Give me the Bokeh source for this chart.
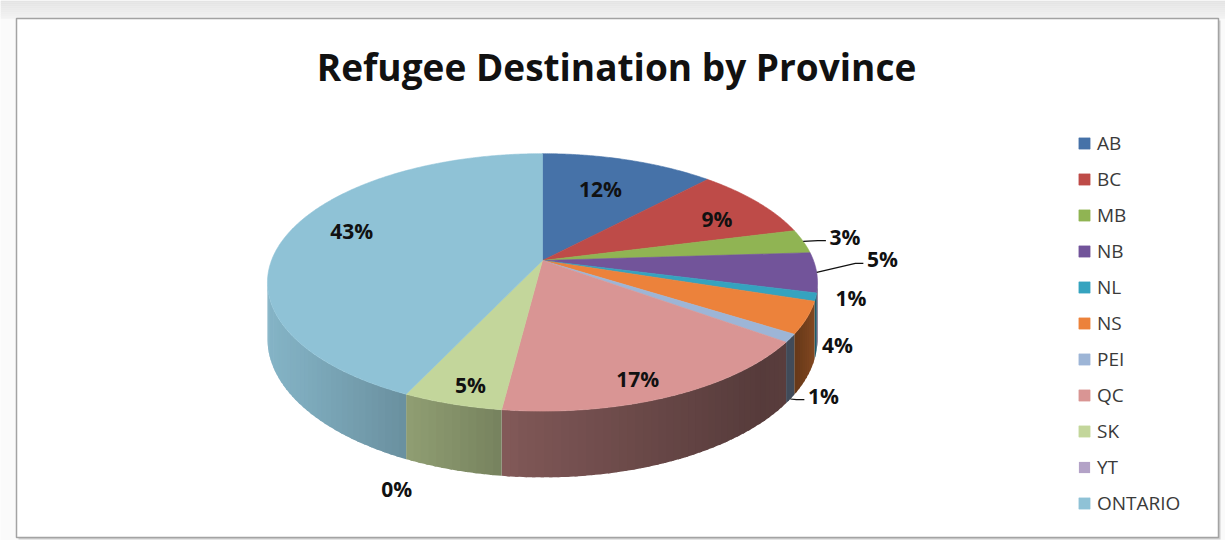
import numpy as np
from bokeh.plotting import figure
from bokeh.models import ColumnDataSource, Range1d, Legend, LegendItem
from bokeh.core.properties import value
from bokeh.embed import file_html
from bokeh.resources import INLINE

# ---------------- data ----------------
title_text = "Refugee Destination by Province"
provinces = ["AB", "BC", "MB", "NB", "NL", "NS", "PEI", "QC", "SK", "YT", "ONTARIO"]
shares = [12, 9, 3, 5, 1, 4, 1, 17, 5, 0, 43]
top_colors = ["#4672a8", "#be4b48", "#90b453", "#72549a", "#35a3bf", "#ec823b",
              "#9db5d6", "#d99594", "#c3d69b", "#b3a2c7", "#8fc2d6"]

# ---------------- layout (not data) ----------------
W, HPX = 1225, 540
CX, CY, RX, RY, K, DEPTH = 542.0, 260.0, 271.0, 125.0, 0.17, 55.0
label_r = [0.68, 0.77, 1.17, 1.256, 1.12, 1.148, 1.265, 0.868, 0.879, 1.454, 0.773]
label_dphi = [-1.2, 3.1, -0.7, -5.8, -1.6, 6.5, 12.0, 3.0, -1.2, -8.8, 5.9]
leader = [False, False, True, True, False, False, True, False, False, False, False]
leader_drop = [0, 0, 0, 0, 0, 0, 1.0, 0, 0, 0, 0]
FONT = "Open Sans"


def proj(r, phi_deg):
    ph = np.radians(np.asarray(phi_deg, dtype=float))
    X = r * np.sin(ph)
    S = r * np.cos(ph)
    den = 1 + K * S
    return CX + RX * X / den, CY - RY * S / den, den


def shade(hexcol, f):
    h = hexcol.lstrip("#")
    r, g, b = (int(h[i:i + 2], 16) for i in (0, 2, 4))
    return "#%02x%02x%02x" % (int(min(255, r * f)), int(min(255, g * f)), int(min(255, b * f)))


total = float(sum(shares))
cum = np.concatenate([[0.0], np.cumsum(shares)])
a_start = cum[:-1] / total * 360.0
a_end = cum[1:] / total * 360.0
a_mid = (a_start + a_end) / 2.0

p = figure(width=W, height=HPX, x_range=Range1d(0, W), y_range=Range1d(HPX, 0),
           min_border=0, toolbar_location=None, output_backend="svg",
           x_axis_location=None, y_axis_location=None,
           background_fill_color="#fafafa", border_fill_color="#fafafa")
p.grid.visible = False
p.outline_line_color = None

# top grey band
band_n = 9
for i in range(band_n):
    g = int(0xe4 + (0xf2 - 0xe4) * i / (band_n - 1))
    p.quad(left=0, right=W, top=i * 2, bottom=i * 2 + 2.2, fill_color="#%02x%02x%02x" % (g, g, g),
           line_color=None)

# frame box with shadow
p.quad(left=18, right=1220, top=20, bottom=539, fill_color="#d0d0d0", line_color=None)
p.quad(left=16, right=1218, top=18, bottom=537, fill_color="#ffffff",
       line_color="#a3a3a3", line_width=1.5)

# ---------------- side walls ----------------
lo = np.degrees(np.arccos(-K))
hi = 360.0 - lo
wx, wy, wc = [], [], []
for i in range(len(shares)):
    s0, s1 = max(a_start[i], lo), min(a_end[i], hi)
    if s1 <= s0:
        continue
    n = max(1, int(np.ceil((s1 - s0) / 1.5)))
    edges = np.linspace(s0, s1, n + 1)
    for j in range(n):
        e1 = min(edges[j + 1] + 0.6, s1)
        ph = np.linspace(edges[j], e1, 4)
        tx, ty, den = proj(1.0, ph)
        bx, by = tx, ty + DEPTH / den
        xs = list(tx) + list(bx[::-1])
        ys = list(ty) + list(by[::-1])
        mx = float(np.mean(tx))
        f = float(np.interp(mx, [265, 300, 520, 760, 792, 818],
                            [0.93, 0.89, 0.58, 0.40, 0.42, 0.58]))
        wx.append(xs)
        wy.append(ys)
        wc.append(shade(top_colors[i], f))
p.patches(xs="xs", ys="ys", fill_color="c", line_color=None,
          source=ColumnDataSource(dict(xs=wx, ys=wy, c=wc)))

# ---------------- top surface ----------------
txs, tys, tlw = [], [], []
for i in range(len(shares)):
    span = a_end[i] - a_start[i]
    ph = np.linspace(a_start[i], a_end[i], max(2, int(span * 2) + 2))
    x, y, _ = proj(1.0, ph)
    txs.append([CX] + list(x) + [CX])
    tys.append([CY] + list(y) + [CY])
    tlw.append(0.6 if span > 0 else 0.0)
top_src = ColumnDataSource(dict(xs=txs, ys=tys, c=top_colors, lw=tlw, name=provinces))
tops = p.patches(xs="xs", ys="ys", fill_color="c", line_color="c", line_width="lw",
                 source=top_src)

# ---------------- data labels ----------------
lx, ly, lt = [], [], []
for i in range(len(shares)):
    x, y, _ = proj(label_r[i], a_mid[i] + label_dphi[i])
    lx.append(float(x))
    ly.append(float(y))
    lt.append("%d%%" % int(round(shares[i] / total * 100)))
p.text(x="x", y="y", text="t", source=ColumnDataSource(dict(x=lx, y=ly, t=lt)),
       text_font=value(FONT), text_font_style="bold", text_font_size="21px",
       text_color="#111111", text_align="center", text_baseline="middle")

# leader lines
lead_x, lead_y = [], []
for i in range(len(shares)):
    if not leader[i]:
        continue
    sx, sy, den = proj(1.0, a_mid[i])
    sx, sy = float(sx), float(sy + leader_drop[i] * DEPTH / den)
    ex, ey = lx[i] - 19, ly[i] + 4
    lead_x.append([sx, ex - 8, ex])
    lead_y.append([sy, ey, ey])
p.multi_line(xs=lead_x, ys=lead_y, line_color="#111111", line_width=1.2)

# ---------------- title ----------------
p.text(x=[616], y=[66], text=[title_text], text_font=value(FONT), text_font_style="bold",
       text_font_size="37px", text_color="#111111", text_align="center", text_baseline="middle")

# ---------------- legend ----------------
items = [LegendItem(label=provinces[i], renderers=[tops], index=i) for i in range(len(provinces))]
legend = Legend(items=items, location=(1077, 24), orientation="vertical",
                glyph_width=14, glyph_height=14, label_standoff=6,
                label_text_font=FONT, label_text_font_size="19px", label_text_color="#3a3a3a",
                label_height=20, spacing=10, padding=0, margin=0,
                border_line_color=None, background_fill_alpha=0)
p.add_layout(legend, "center")

open("out.html", "w").write(file_html(p, INLINE))
